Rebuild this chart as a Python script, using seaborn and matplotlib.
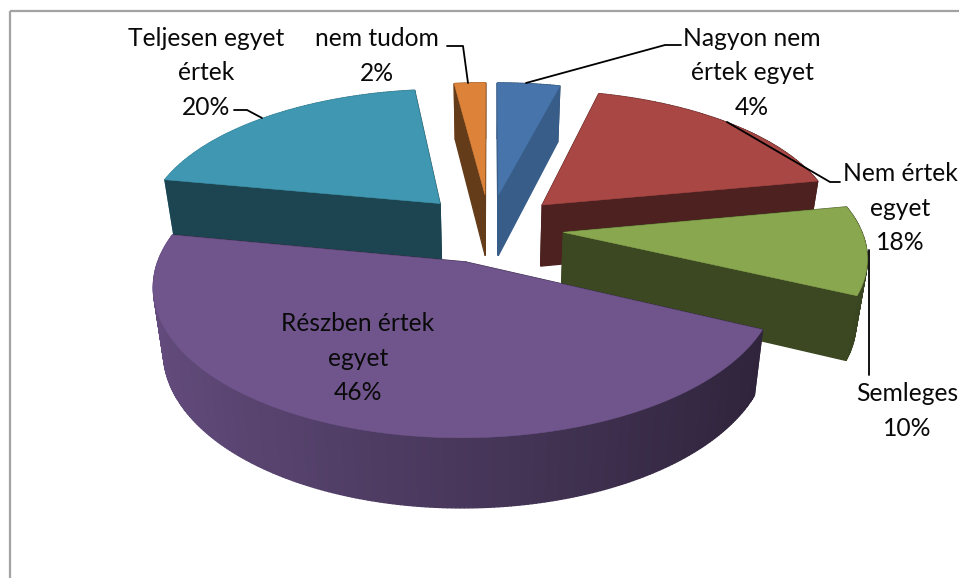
import numpy as np
import pandas as pd
import seaborn as sns
import matplotlib
matplotlib.use("Agg")
import matplotlib.pyplot as plt
from matplotlib.patches import Polygon, Rectangle
from matplotlib.colors import to_rgb

categories = ["Nagyon nem\nértek egyet", "Nem értek\negyet", "Semleges",
              "Részben értek\negyet", "Teljesen egyet\nértek", "nem tudom"]
values = [4, 18, 10, 46, 20, 2]
top_colors = ["#4674ab", "#a84744", "#89a74f", "#6f558c", "#3f97b1", "#dc8239"]
cut_shades = [0.80, 0.46, 0.43, 0.45, 0.46, 0.46]
draw_order = [0, 5, 1, 4, 2, 3]
label_xy = [(752, 73), (900, 208), (907, 411), (358, 358), (206, 73), (377, 56)]
leaders = [[(681, 45), (665, 45), (526, 83)],
           [(840, 182), (830, 182), (727, 122)],
           [(869, 250), (869, 375)],
           None,
           [(234, 110), (247, 110), (262, 118)],
           [(447, 46), (463, 46), (468, 83)]]

CX, CY, RX, RY, K = 489.5, 228.0, 297.0, 138.0, 0.15
DEPTH, DEPTH_POW, BOTTOM_SCALE, EXPLODE = 62.0, 0.6, 0.97, 0.25

sns.set_theme(style="white")
palette = sns.color_palette(top_colors)
plt.rcParams["font.family"] = ["Lato", "DejaVu Sans"]
df = pd.DataFrame({"category": categories, "value": values})
df["end"] = df["value"].cumsum() / df["value"].sum() * 2 * np.pi
df["start"] = df["end"].shift(fill_value=0.0)

fig = plt.figure(figsize=(9.59, 5.78), dpi=100, facecolor="white")
ax = fig.add_axes([0, 0, 1, 1])
ax.set_xlim(0, 959)
ax.set_ylim(578, 0)
ax.axis("off")
ax.add_patch(Rectangle((9.5, 11), 1000, 1000, fill=False, ec="#a3a3a3", lw=1.6))


def project(u, v, bottom=False):
    w = 1.0 / (1.0 + K * v)
    s = BOTTOM_SCALE if bottom else 1.0
    return (CX + RX * u * w * s,
            CY - RY * v * w + (DEPTH * w ** DEPTH_POW if bottom else 0.0))


def shade(color, f):
    return tuple(np.array(to_rgb(color)) * f)


def area(pts):
    p = np.array(pts)
    return 0.5 * np.sum(p[:, 0] * np.roll(p[:, 1], -1) - np.roll(p[:, 0], -1) * p[:, 1])


for i in draw_order:
    t0, t1 = df.loc[i, "start"], df.loc[i, "end"]
    mid = (t0 + t1) / 2
    ou, ov = EXPLODE * np.sin(mid), EXPLODE * np.cos(mid)
    th = np.linspace(t0, t1, max(int((t1 - t0) / 0.012), 6))
    rim = [(ou + np.sin(a), ov + np.cos(a)) for a in th]
    apex = (ou, ov)
    loop = [apex] + rim
    faces = []
    for k in range(len(loop)):
        a, b = loop[k], loop[(k + 1) % len(loop)]
        quad = [project(*a), project(*b), project(*b, True), project(*a, True)]
        if k == 0 or k == len(loop) - 1:
            col = shade(palette[i], cut_shades[i])
        else:
            s = (np.sin(th[k - 1]) + 1) / 2
            col = shade(palette[i], 0.90 - 0.50 * s)
        faces.append((area(quad), quad, col))
    # screen orientation decides which wall faces the viewer: hidden walls first
    faces.sort(key=lambda f: f[0] < 0)
    for _, quad, col in faces:
        ax.add_patch(Polygon(quad, closed=True, fc=col, ec=col, lw=1.0))
    ax.add_patch(Polygon([project(*p) for p in loop], closed=True,
                         fc=palette[i], ec=palette[i], lw=0.4))

for i, row in df.iterrows():
    ax.text(*label_xy[i], f"{row['category']}\n{row['value']}%", ha="center", va="center",
            fontsize=17.7, color="#0a0a0a", linespacing=1.6)
    if leaders[i]:
        xs, ys = zip(*leaders[i])
        ax.plot(xs, ys, color="black", lw=1.3)

fig.savefig("out.png", dpi=100)
